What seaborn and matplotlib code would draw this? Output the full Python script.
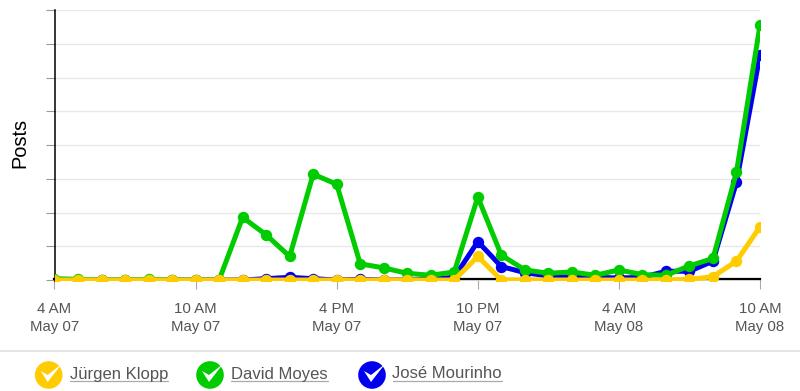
import matplotlib.pyplot as plt
import pandas as pd
import seaborn as sns
from matplotlib.patches import Circle, Polygon

sns.set_style("white")
plt.rcParams["font.family"] = ["Liberation Sans", "DejaVu Sans"]

hours = pd.date_range("2013-05-07 04:00", periods=31, freq="h")

klopp = [0, 0, 0, 0, 0, 0, 0, 0, 0, 0, 0, 0, 0, 0, 0, 0,
         0, 0, 35, 0, 0, 0, 0, 0, 0, 0, 0, 1, 5, 28, 79]
moyes = [2, 1, 0, 0, 1, 0, 0, 0, 93, 67, 35, 157, 142, 24, 18, 10,
         7, 12, 123, 37, 15, 10, 12, 7, 15, 8, 7, 21, 32, 160, 378]
mourinho = [0, 0, 0, 0, 0, 0, 0, 0, 0, 2, 4, 2, 0, 1, 0, 0,
            1, 4, 57, 20, 11, 6, 4, 4, 3, 4, 13, 13, 28, 145, 334]

names = ["José Mourinho", "David Moyes", "Jürgen Klopp"]
colors = ["#0000ee", "#00cc00", "#ffcc00"]

tick_times = ["2013-05-07 04:00", "2013-05-07 10:00", "2013-05-07 16:00",
              "2013-05-07 22:00", "2013-05-08 04:00", "2013-05-08 10:00"]
tick_labels = ["4 AM\nMay 07", "10 AM\nMay 07", "4 PM\nMay 07",
               "10 PM\nMay 07", "4 AM\nMay 08", "10 AM\nMay 08"]
y_ticks = [0, 50, 100, 150, 200, 250, 300, 350, 400]

data = pd.concat([
    pd.DataFrame({"time": hours, "Posts": mourinho, "name": names[0]}),
    pd.DataFrame({"time": hours, "Posts": moyes, "name": names[1]}),
    pd.DataFrame({"time": hours, "Posts": klopp, "name": names[2]}),
])

fig = plt.figure(figsize=(8, 3.91), dpi=100)
ax = fig.add_axes([54.5 / 800, 1 - 280.5 / 391, 705.5 / 800, 270.2 / 391])

sns.lineplot(data=data, x="time", y="Posts", hue="name", hue_order=names,
             palette=colors, marker="o", markersize=8.2, markeredgewidth=0,
             linewidth=3.6, legend=False, ax=ax, zorder=3)

# bottom axis sits under the lines, only showing where they lift off zero
# (set_position resets the ticks, so this has to come before the tick setup)
ax.spines["bottom"].set_position(("outward", -1))
ax.spines["bottom"].set_linewidth(1.6)
ax.spines["bottom"].set_zorder(1)
ax.spines["bottom"].set_color("black")
ax.spines["left"].set_linewidth(1.1)
ax.spines["left"].set_color("black")
for side in ["top", "right"]:
    ax.spines[side].set_visible(False)

ax.set_xlim(hours[0], hours[-1])
ax.set_ylim(-0.7, 400)
ax.set_xticks(pd.to_datetime(tick_times))
ax.set_xticklabels(tick_labels, fontsize=10.8, color="#555555", linespacing=1.37)
ax.set_yticks(y_ticks)
ax.set_yticklabels([])
ax.tick_params(axis="x", length=7, width=0.8, color="#aaaaaa", bottom=True, pad=9.4)
ax.tick_params(axis="y", length=6.5, width=0.8, color="#999999", left=True)
ax.grid(axis="y", color="#e8e8e8", linewidth=1)
ax.set_axisbelow(True)
ax.set_xlabel("")
ax.set_ylabel("")
fig.text(19.5 / 800, 1 - 143 / 391, "Posts", rotation=90, fontsize=14.4,
         color="black", ha="center", va="center")

# legend strip along the bottom, in pixel coordinates
over = fig.add_axes([0, 0, 1, 1], zorder=5)
over.set_xlim(0, 800)
over.set_ylim(391, 0)
over.axis("off")
over.patch.set_alpha(0)
over.plot([0, 800], [351, 351], color="#e5e5e5", linewidth=1.5)

entries = [("Jürgen Klopp", "#ffcc00", 48.7, 70),
           ("David Moyes", "#00cc00", 210, 231),
           ("José Mourinho", "#0000ee", 372, 392.5)]
for label, color, cx, tx in entries:
    over.add_patch(Circle((cx, 375), 13.8, facecolor=color, edgecolor="none"))
    over.add_patch(Polygon([(cx - 8, 371), (cx - 1, 382), (cx + 13, 364), (cx - 1, 375)],
                           facecolor="white", edgecolor="none"))
    t = over.text(tx, 374, label, fontsize=12, color="#555555", va="center", ha="left")
    box = t.get_window_extent(fig.canvas.get_renderer())
    over.plot([tx, tx + box.width], [380.5, 380.5], color="#aaaaaa", linewidth=0.9)

plt.savefig("out.png", dpi=100)
